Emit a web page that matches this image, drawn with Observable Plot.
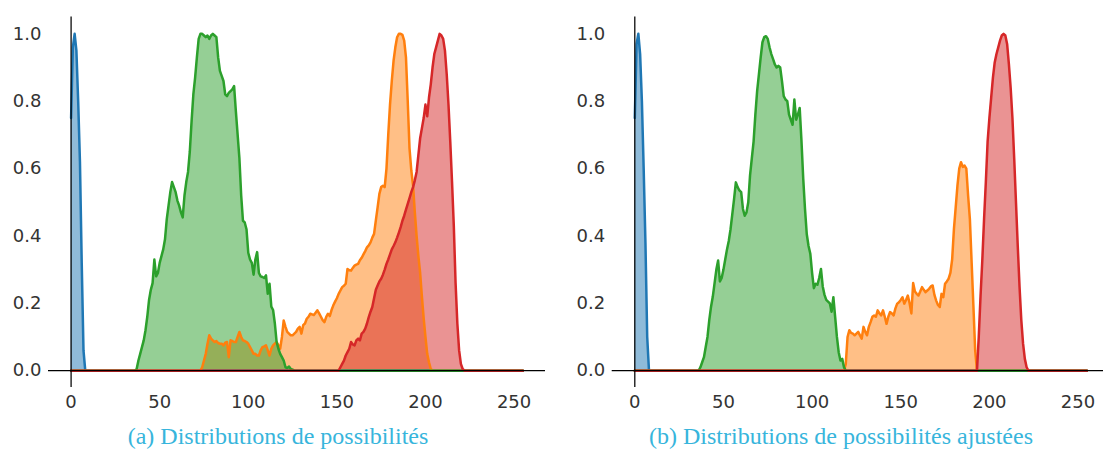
<!DOCTYPE html>
<html>
<head>
<meta charset="utf-8">
<script src="https://cdn.jsdelivr.net/npm/d3@7"></script>
<script src="https://cdn.jsdelivr.net/npm/@observablehq/plot@0.6"></script>
<style>
  body { margin: 0; background: #fff; }
  #fig { position: relative; width: 1103px; height: 449px; overflow: hidden; background: #fff; }
  .panel { position: absolute; top: 0; }
  .caption {
    position: absolute;
    top: 422.5px;
    font-family: "Liberation Serif", "DejaVu Serif", serif;
    font-size: 24px;
    line-height: normal;
    color: #37b5dc;
    white-space: nowrap;
    transform: translateX(-50%);
  }
</style>
</head>
<body>
<div id="fig"></div>
<script>
// Gray levels 0..255 on x, possibility degree on y.
const xTicks = [0, 50, 100, 150, 200, 250];
const yTicks = [0, 0.2, 0.4, 0.6, 0.8, 1.0];
const seriesColors = ["#1f77b4", "#ff7f0e", "#2ca02c", "#d62728"];
const captions = [
  "(a) Distributions de possibilités",
  "(b) Distributions de possibilités ajustées"
];

// Each distribution: first gray level of its support, then one value per level.
// Levels outside the support are zero.

// (a) possibility distributions
const blueA = {start: 0, values: [0.75, 0.96, 1.0, 0.95, 0.8, 0.62, 0.32, 0.06, 0]};
const orangeA = {start: 73, values: [
  0, 0.01, 0.03, 0.05, 0.08, 0.105, 0.095, 0.09, 0.085, 0.088,
  0.082, 0.08, 0.08, 0.075, 0.083, 0.085, 0.04, 0.09, 0.088, 0.085,
  0.085, 0.1, 0.115, 0.1, 0.09, 0.088, 0.085, 0.08, 0.07, 0.06,
  0.05, 0.05, 0.045, 0.045, 0.06, 0.07, 0.072, 0.075, 0.06, 0.045,
  0.065, 0.075, 0.08, 0.085, 0.075, 0.065, 0.1, 0.149, 0.13, 0.115,
  0.11, 0.105, 0.105, 0.11, 0.115, 0.125, 0.13, 0.11, 0.135, 0.14,
  0.154, 0.16, 0.169, 0.167, 0.165, 0.172, 0.179, 0.17, 0.16, 0.15,
  0.144, 0.16, 0.169, 0.162, 0.18, 0.194, 0.205, 0.215, 0.228, 0.238,
  0.248, 0.252, 0.258, 0.302, 0.298, 0.297, 0.305, 0.312, 0.315, 0.317,
  0.328, 0.335, 0.345, 0.355, 0.366, 0.372, 0.381, 0.395, 0.406, 0.446,
  0.485, 0.525, 0.545, 0.549, 0.545, 0.6, 0.7, 0.79, 0.86, 0.92,
  0.96, 0.99, 1.0, 1.0, 0.997, 0.98, 0.93, 0.8, 0.66, 0.595,
  0.55, 0.47, 0.4, 0.34, 0.29, 0.22, 0.155, 0.1, 0.05, 0.025,
  0.005, 0]};
const greenA = {start: 36, values: [
  0, 0.005, 0.03, 0.05, 0.07, 0.09, 0.12, 0.16, 0.21, 0.24,
  0.26, 0.33, 0.28, 0.29, 0.32, 0.34, 0.36, 0.39, 0.45, 0.49,
  0.53, 0.56, 0.545, 0.53, 0.505, 0.49, 0.47, 0.455, 0.52, 0.56,
  0.59, 0.65, 0.74, 0.82, 0.87, 0.93, 0.985, 1.0, 1.0, 0.995,
  0.99, 0.995, 0.985, 0.995, 1.0, 0.995, 0.99, 0.93, 0.89, 0.875,
  0.86, 0.82, 0.815, 0.825, 0.83, 0.835, 0.845, 0.77, 0.7, 0.63,
  0.52, 0.445, 0.44, 0.42, 0.35, 0.33, 0.32, 0.285, 0.33, 0.352,
  0.29, 0.28, 0.278, 0.275, 0.283, 0.228, 0.258, 0.19, 0.18, 0.14,
  0.085, 0.065, 0.05, 0.04, 0.03, 0.01, 0.008, 0.012, 0.005, 0.003,
  0]};
const redA = {start: 151, values: [
  0, 0.01, 0.02, 0.03, 0.045, 0.055, 0.065, 0.085, 0.078, 0.075,
  0.09, 0.095, 0.09, 0.11, 0.115, 0.125, 0.14, 0.159, 0.175, 0.189,
  0.215, 0.24, 0.253, 0.265, 0.273, 0.285, 0.3, 0.317, 0.33, 0.345,
  0.36, 0.37, 0.381, 0.395, 0.41, 0.426, 0.445, 0.46, 0.478, 0.495,
  0.512, 0.53, 0.545, 0.565, 0.59, 0.64, 0.69, 0.72, 0.75, 0.79,
  0.755, 0.811, 0.85, 0.9, 0.94, 0.96, 0.98, 1.0, 0.995, 0.985,
  0.95, 0.88, 0.79, 0.68, 0.56, 0.43, 0.26, 0.14, 0.06, 0.02,
  0.005, 0]};

// (b) adjusted possibility distributions
const blueB = {start: 0, values: [0.75, 0.97, 1.0, 0.94, 0.8, 0.6, 0.38, 0.1, 0]};
const orangeB = {start: 118, values: [
  0, 0.02, 0.1, 0.12, 0.112, 0.11, 0.105, 0.11, 0.115, 0.105,
  0.095, 0.13, 0.115, 0.105, 0.13, 0.144, 0.16, 0.164, 0.16, 0.179,
  0.17, 0.164, 0.179, 0.16, 0.139, 0.16, 0.174, 0.17, 0.164, 0.185,
  0.199, 0.203, 0.21, 0.218, 0.199, 0.21, 0.223, 0.2, 0.17, 0.26,
  0.235, 0.228, 0.223, 0.235, 0.248, 0.24, 0.233, 0.238, 0.243, 0.25,
  0.253, 0.225, 0.208, 0.195, 0.189, 0.228, 0.218, 0.258, 0.265, 0.273,
  0.29, 0.33, 0.42, 0.485, 0.55, 0.6, 0.619, 0.605, 0.609, 0.6,
  0.52, 0.45, 0.32, 0.19, 0.06, 0]};
const greenB = {start: 36, values: [
  0, 0.01, 0.025, 0.04, 0.07, 0.1, 0.15, 0.19, 0.22, 0.26,
  0.3, 0.327, 0.265, 0.275, 0.3, 0.33, 0.36, 0.385, 0.42, 0.465,
  0.51, 0.559, 0.545, 0.535, 0.53, 0.48, 0.46, 0.47, 0.5, 0.58,
  0.63, 0.68, 0.76, 0.83, 0.88, 0.93, 0.975, 0.99, 0.993, 0.985,
  0.96, 0.94, 0.925, 0.909, 0.9, 0.905, 0.9, 0.86, 0.815, 0.805,
  0.8, 0.76, 0.745, 0.73, 0.805, 0.745, 0.76, 0.78, 0.683, 0.57,
  0.48, 0.405, 0.37, 0.347, 0.29, 0.245, 0.258, 0.255, 0.275, 0.302,
  0.25, 0.225, 0.21, 0.205, 0.2, 0.175, 0.218, 0.16, 0.1, 0.055,
  0.03, 0.035, 0.01, 0]};
const redB = {start: 193, values: [
  0, 0.1, 0.22, 0.327, 0.45, 0.56, 0.68, 0.75, 0.81, 0.87,
  0.915, 0.94, 0.96, 0.98, 0.995, 1.0, 0.995, 0.97, 0.91, 0.84,
  0.75, 0.63, 0.5, 0.37, 0.25, 0.15, 0.08, 0.035, 0.01, 0]};

const panels = [
  {series: [blueA, orangeA, greenA, redA], left: 0, marginLeft: 48, width: 555, caption: captions[0], captionX: 278},
  {series: [blueB, orangeB, greenB, redB], left: 560, marginLeft: 51.7, width: 559, caption: captions[1], captionX: 841}
];

// Expand a support to the full 0..255 range of gray levels.
function expand(s) {
  return d3.range(256).map(x => {
    const i = x - s.start;
    return {x, y: i >= 0 && i < s.values.length ? s.values[i] : 0};
  });
}

const fig = document.getElementById("fig");

for (const p of panels) {
  const curves = p.series.map(expand);
  const chart = Plot.plot({
    width: p.width,
    height: 417,
    marginLeft: p.marginLeft,
    marginRight: 10,
    marginTop: 16.5,
    marginBottom: 30,
    style: {fontFamily: "DejaVu Sans", fontSize: "18px", color: "#333", background: "transparent"},
    x: {domain: [-12.75, 267.75], ticks: xTicks, tickSize: 0, tickPadding: 7.5, tickFormat: d => String(d), label: null},
    y: {domain: [-0.05, 1.05], ticks: yTicks, tickSize: 0, tickPadding: 7, tickFormat: d3.format(".1f"), label: null},
    marks: [
      ...curves.map((c, i) => Plot.areaY(c, {x: "x", y: "y", fill: seriesColors[i], fillOpacity: 0.5})),
      ...curves.map((c, i) => Plot.lineY(c, {x: "x", y: "y", stroke: seriesColors[i], strokeWidth: 2.5})),
      Plot.ruleX([0], {stroke: "#000", strokeWidth: 1.25}),
      Plot.ruleY([0], {stroke: "#000", strokeWidth: 1.25})
    ]
  });
  chart.classList.add("panel");
  chart.style.left = p.left + "px";
  fig.appendChild(chart);

  const cap = document.createElement("div");
  cap.className = "caption";
  cap.style.left = p.captionX + "px";
  cap.textContent = p.caption;
  fig.appendChild(cap);
}
</script>
</body>
</html>
